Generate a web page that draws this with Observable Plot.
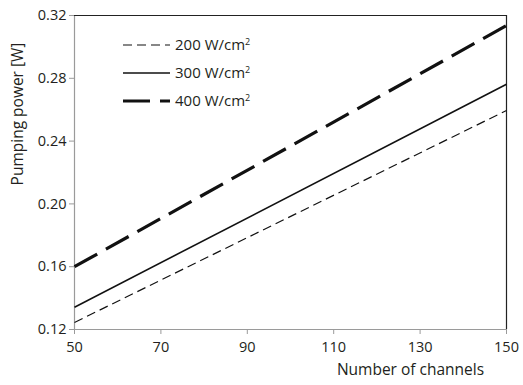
<!DOCTYPE html>
<html>
<head>
<meta charset="utf-8">
<script src="https://cdn.jsdelivr.net/npm/d3@7"></script>
<script src="https://cdn.jsdelivr.net/npm/@observablehq/plot@0.6"></script>
<style>
  html, body { margin: 0; padding: 0; background: #fff; }
  #wrap { position: relative; width: 523px; height: 385px; }
  #overlay { position: absolute; left: 0; top: 0; }
</style>
</head>
<body>
<div id="wrap"></div>
<script>
const channels = [50, 150];
const series = ["200 W/cm²", "300 W/cm²", "400 W/cm²"];
const power200 = [0.1245, 0.2595];
const power300 = [0.1342, 0.2762];
const power400 = [0.1600, 0.3136];
const xTicks = [50, 70, 90, 110, 130, 150];
const yTicks = [0.12, 0.16, 0.20, 0.24, 0.28, 0.32];
const xLabel = "Number of channels";
const yLabel = "Pumping power [W]";

const styles = {
  "200 W/cm²": {strokeWidth: 1.2, strokeDasharray: "9,5"},
  "300 W/cm²": {strokeWidth: 1.6, strokeDasharray: null},
  "400 W/cm²": {strokeWidth: 3.2, strokeDasharray: "26,10"}
};
const values = {"200 W/cm²": power200, "300 W/cm²": power300, "400 W/cm²": power400};

const textColor = "#231f20";
const gray = "#9a9a9a";
const font = "'Open Sans', sans-serif";

const lineMarks = series.map(s => Plot.line(
  channels.map((c, i) => ({x: c, y: values[s][i]})),
  {x: "x", y: "y", stroke: "#111", strokeWidth: styles[s].strokeWidth, strokeDasharray: styles[s].strokeDasharray, strokeLinecap: "butt"}
));

const chart = Plot.plot({
  width: 523,
  height: 385,
  marginLeft: 74,
  marginTop: 15,
  marginRight: 17,
  marginBottom: 56,
  style: {fontFamily: font, fontSize: "14.5px", color: textColor, background: "#fff"},
  x: {domain: [50, 150]},
  y: {domain: [0.12, 0.32]},
  marks: [
    Plot.axisX({ticks: xTicks, tickSize: 5, tickPadding: 7, stroke: gray, fill: textColor, label: null}),
    Plot.axisY({ticks: yTicks, tickSize: 5, tickPadding: 3, tickFormat: d3.format(".2f"), stroke: gray, fill: textColor, label: null}),
    Plot.text([xLabel], {frameAnchor: "bottom", dx: 120, dy: 45, fontSize: 15.5, fill: textColor}),
    Plot.ruleX([50], {stroke: gray, strokeWidth: 1.2}),
    Plot.ruleY([0.12], {stroke: gray, strokeWidth: 1.2}),
    Plot.ruleX([150], {stroke: "#222", strokeWidth: 1.2}),
    Plot.ruleY([0.32], {stroke: "#222", strokeWidth: 1.2}),
    ...lineMarks
  ]
});
document.getElementById("wrap").appendChild(chart);

// Overlay: y-axis label and legend
const ov = d3.select("#wrap").append("svg")
  .attr("id", "overlay")
  .attr("width", 523).attr("height", 385)
  .style("pointer-events", "none");

ov.append("text")
  .attr("transform", "translate(17,114) rotate(-90)")
  .attr("text-anchor", "middle")
  .attr("dominant-baseline", "central")
  .attr("font-family", font)
  .attr("font-size", 15.5)
  .attr("fill", textColor)
  .text(yLabel);

series.forEach((s, i) => {
  const y = 45 + i * 28;
  ov.append("line")
    .attr("x1", 123).attr("x2", 170).attr("y1", y).attr("y2", y)
    .attr("stroke", "#111")
    .attr("stroke-width", styles[s].strokeWidth)
    .attr("stroke-dasharray", styles[s].strokeDasharray ? (i === 0 ? "9,5" : "27,10") : null);
  const t = ov.append("text")
    .attr("x", 175).attr("y", y + 5)
    .attr("font-family", font)
    .attr("font-size", 15)
    .attr("fill", textColor);
  const base = s.replace("²", "");
  t.append("tspan").text(base);
  t.append("tspan").attr("font-size", 9).attr("dy", -5.5).text("2");
});
</script>
</body>
</html>
